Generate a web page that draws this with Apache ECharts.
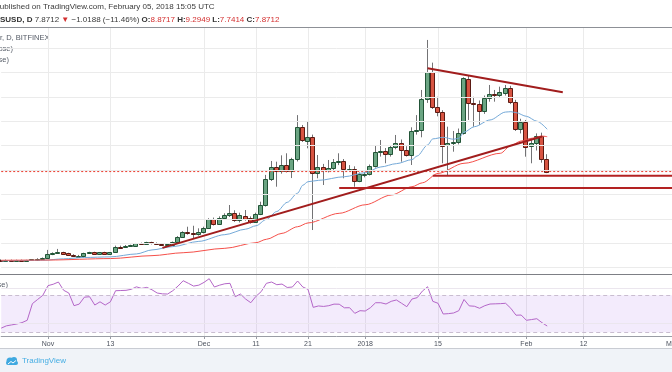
<!DOCTYPE html>
<html>
<head>
<meta charset="utf-8">
<script src="https://cdn.jsdelivr.net/npm/echarts@6/dist/echarts.min.js"></script>
<style>html,body{margin:0;padding:0;background:#fff}#c{width:672px;height:372px}</style>
</head>
<body>
<div id="c"></div>
<script>
// ---------- DATA (EOSUSD daily, Bitfinex, from 2017-10-23) ----------
const firstDay = '2017-10-23';
const axisDays = 130; // through 2018-03-01

const opens = [0.64,0.61,0.63,0.61,0.62,0.61,0.62,0.68,0.74,0.80,
1.10,1.19,1.24,1.16,1.06,0.96,0.99,1.18,1.26,1.10,
1.25,1.09,1.24,1.72,1.68,1.78,1.80,1.99,1.91,2.07,
1.98,1.95,1.88,1.88,2.10,2.50,2.92,2.84,2.75,2.90,
3.27,3.96,3.60,4.06,4.29,4.45,3.90,4.23,4.04,3.76,
4.37,5.13,7.26,8.27,7.94,8.41,7.94,8.88,11.50,10.40,
10.68,7.73,8.27,8.00,8.19,8.63,8.76,8.08,8.12,7.12,
7.62,7.65,8.33,9.45,9.56,9.29,9.86,10.19,9.64,9.23,
11.22,11.28,13.82,16.03,13.19,12.73,10.05,10.19,10.30,11.06,
15.46,13.52,13.41,12.84,13.88,14.23,14.18,14.34,14.70,13.60,
11.36,11.96,9.95,10.20,10.80,8.8717];
const highs = [0.68,0.66,0.66,0.65,0.66,0.64,0.70,0.77,0.83,1.45,
1.25,1.53,1.30,1.22,1.10,1.04,1.22,1.30,1.30,1.28,
1.30,1.28,1.80,1.80,1.85,1.88,2.02,2.05,2.12,2.12,
2.06,1.98,1.94,2.14,2.58,2.98,3.35,3.43,3.22,3.35,
4.05,4.10,4.20,4.45,5.13,4.70,4.50,4.72,4.20,4.50,
5.40,7.60,8.74,8.68,9.20,9.37,9.00,12.50,11.69,11.96,
10.90,9.23,8.50,8.82,8.90,9.37,8.90,8.40,8.30,7.80,
7.85,8.45,10.05,10.46,9.80,10.00,10.87,10.50,9.95,11.50,
12.50,14.56,18.66,16.80,14.00,12.90,11.55,11.20,11.40,15.60,
15.70,14.00,13.70,14.10,14.97,14.56,14.83,14.97,14.90,13.75,
12.20,12.10,10.60,11.00,11.06,9.2949];
const lows = [0.59,0.58,0.59,0.58,0.59,0.58,0.60,0.66,0.72,0.78,
1.02,1.12,1.10,1.02,0.92,0.88,0.96,1.14,1.05,1.06,
1.04,1.06,1.20,1.62,1.62,1.74,1.78,1.88,1.88,1.90,
1.88,1.84,1.85,1.85,2.06,2.45,2.70,2.40,2.62,2.80,
3.20,3.45,3.50,3.95,4.15,3.75,3.70,3.85,3.60,3.70,
4.30,5.00,7.10,6.63,7.70,7.80,7.34,8.70,10.30,9.78,
3.08,7.32,6.77,7.80,8.00,8.40,7.32,7.90,6.63,7.00,
7.40,7.55,8.20,9.10,8.55,9.10,9.70,8.68,9.10,8.41,
10.90,10.68,13.50,13.00,12.40,8.55,7.53,9.50,10.10,10.90,
12.10,11.55,11.69,12.60,13.60,13.60,13.90,14.10,13.40,11.20,
11.00,9.09,8.55,9.60,8.60,7.7414];
const closes = [0.61,0.63,0.61,0.62,0.61,0.62,0.68,0.74,0.80,1.10,
1.19,1.24,1.15,1.06,0.96,0.99,1.18,1.26,1.10,1.25,
1.09,1.24,1.72,1.68,1.80,1.82,1.99,1.91,2.07,1.98,
1.92,1.88,1.90,2.10,2.53,2.92,2.81,2.75,2.92,3.27,
3.98,3.57,4.09,4.29,4.48,3.90,4.31,3.98,3.71,4.39,
5.13,7.26,8.27,7.94,8.41,7.94,8.88,11.55,10.46,10.68,
7.73,8.27,8.00,8.19,8.63,8.74,8.08,8.12,7.12,7.67,
7.66,8.33,9.45,9.52,9.29,9.86,10.19,9.64,9.23,11.22,
11.28,13.82,16.03,13.19,12.73,10.00,10.19,10.30,11.06,15.50,
13.47,13.41,12.84,13.88,14.23,14.18,14.42,14.70,13.60,11.36,
11.96,9.90,10.20,10.80,8.88,7.8712];

const rsi = [34.5,37,38,39,40.5,43,61,65.5,70,80.5,
82,84.4,75.5,72.5,58.8,60.5,68,68.5,59.5,63,
59.5,63,75,75.2,75.4,76.5,79.2,77.5,78.6,76,
72.5,71.6,71.4,75,80,85.8,83,80,81,84,
88,79,81,82.5,83,68.5,71.4,66,62,69,
74,83,84.4,81.5,82.2,78.5,79,85.5,79,76.5,
57,58.5,58,58.8,60.5,60.4,56.5,56.6,50.5,53.4,
53,56.6,62,62,60.6,63.5,65,61.4,57.7,66,
67.5,74.6,79.3,63.5,61.4,49.8,50.2,50.9,53.4,65.5,
58.6,58.2,56,58.8,60.6,60.8,61,61.4,56,48.5,
48.7,43,43.8,44.7,40.4,36.8];

// moving averages (day index, value)
const maFastDays = [0,8,12,16,21,26,29,33,38,43,47,49,51,53,55,57,58,59,61,66,70,73,76,79,80,82,83,85,87,88,89,91,94,97,98,99,101,103,105];
const maFastValues = [0.56,0.60,0.72,0.83,0.88,1.12,1.45,1.72,2.15,2.70,3.15,3.43,3.95,4.60,5.35,6.10,6.75,7.04,7.15,7.45,7.78,8.25,8.52,8.85,9.15,10.05,10.55,10.68,10.52,10.60,11.10,11.55,12.10,12.75,12.78,12.70,12.40,12.00,11.34];
const maSlowDays = [0,9,21,29,35,43,49,51,54,57,59,65,70,75,79,81,84,89,96,98,100,102,104,105];
const maSlowValues = [0.60,0.62,0.74,0.98,1.22,1.58,2.04,2.32,2.81,3.35,3.66,4.45,5.15,5.95,6.63,6.95,7.72,8.55,9.37,10.00,10.38,10.60,10.78,10.73];

// drawn trend lines (day index, price)
const trendUpDays = [31, 104];
const trendUpPrices = [1.62, 10.75];
const trendDownDays = [82, 108];
const trendDownPrices = [16.34, 14.37];
const supportStartDays = [83, 65];
const supportLevels = [7.53, 6.52];

// axis ticks
const tickDates = ['2017-11-01','2017-11-13','2017-12-01','2017-12-11','2017-12-21','2018-01-01','2018-01-15','2018-02-01','2018-02-12','2018-03-01'];
const tickLabels = ['Nov','13','Dec','11','21','2018','15','Feb','12','Mar'];
const priceGridLevels = [0,2,4,6,8,10,12,14,16,18];
const rsiGridLevels = [40, 78];
const rsiBand = [30, 70];

// ---------- BUILD ----------
const categories = [];
{
  const p = firstDay.split('-').map(Number);
  for (let k = 0; k < axisDays; k++) {
    categories.push(new Date(Date.UTC(p[0], p[1] - 1, p[2] + k)).toISOString().slice(0, 10));
  }
}
const lastDay = axisDays - 1;
const candleData = opens.map((o, k) => [k, o, closes[k], lows[k], highs[k]]);
const pair = (days, vals) => days.map((d, k) => [d, vals[k]]);
const isTick = (idx, val) => tickDates.indexOf(val) >= 0;
const FONT = 'Liberation Sans, Arial, sans-serif';
const lastClose = closes[closes.length - 1];

function renderCandle(params, api) {
  const idx = api.value(0);
  const o = api.coord([idx, api.value(1)]);
  const c = api.coord([idx, api.value(2)]);
  const l = api.coord([idx, api.value(3)]);
  const h = api.coord([idx, api.value(4)]);
  const up = api.value(2) >= api.value(1);
  const cx = Math.round(o[0]);
  const top = Math.round(Math.min(o[1], c[1]));
  const bot = Math.round(Math.max(o[1], c[1]));
  const bh = Math.max(bot - top, 1);
  return {
    type: 'group',
    children: [
      { type: 'line', shape: { x1: cx - 0.5, y1: h[1], x2: cx - 0.5, y2: l[1] },
        style: { stroke: '#737375', lineWidth: 1 } },
      { type: 'rect', shape: { x: cx - 2.5, y: top + 0.5, width: 4, height: bh },
        style: { fill: up ? '#6ba583' : '#d75442', stroke: up ? '#225437' : '#5b1a13', lineWidth: 1 } }
    ]
  };
}

const chart = echarts.init(document.getElementById('c'), null, { renderer: 'canvas' });
const drawLine = { color: '#a11d1d', width: 2 };

chart.setOption({
  animation: false,
  backgroundColor: '#ffffff',
  grid: [
    { left: 1.2, right: 0, top: 28, height: 246, containLabel: false, outerBoundsMode: 'none' },
    { left: 1.2, right: 0, top: 275, height: 61, containLabel: false, outerBoundsMode: 'none' }
  ],
  xAxis: [
    { type: 'category', gridIndex: 0, data: categories, boundaryGap: false,
      axisLine: { show: false }, axisTick: { show: false }, axisLabel: { show: false },
      splitLine: { show: true, interval: isTick, lineStyle: { color: '#ebebeb', width: 1 } } },
    { type: 'category', gridIndex: 1, data: categories, boundaryGap: false,
      axisLine: { show: true, lineStyle: { color: '#9a9da5', width: 1 } },
      axisTick: { show: true, interval: isTick, length: 3, lineStyle: { color: '#9a9da5' } },
      axisLabel: { show: true, interval: isTick, margin: 5, fontSize: 7, fontFamily: FONT, color: '#4c525e',
        formatter: v => tickLabels[tickDates.indexOf(v)] || '' },
      splitLine: { show: true, interval: isTick, lineStyle: { color: '#ebebeb', width: 1 } } }
  ],
  yAxis: [
    { type: 'value', gridIndex: 0, min: -0.5246, max: 19.639, show: false, splitLine: { show: false } },
    { type: 'value', gridIndex: 1, min: 26, max: 92, show: false, splitLine: { show: false } }
  ],
  series: [
    { type: 'line', xAxisIndex: 0, yAxisIndex: 0, data: [[0, 0]], symbol: 'none', silent: true,
      lineStyle: { opacity: 0 }, z: 1,
      markLine: { silent: true, symbol: 'none', label: { show: false }, animation: false,
        lineStyle: { color: '#ebebeb', type: 'solid', width: 1 },
        data: priceGridLevels.map(v => ({ yAxis: v })) } },
    { type: 'custom', name: 'EOSUSD', xAxisIndex: 0, yAxisIndex: 0, renderItem: renderCandle,
      dimensions: ['day', 'open', 'close', 'low', 'high'], encode: { x: 0, y: [1, 2, 3, 4] },
      data: candleData, z: 3 },
    { type: 'line', name: 'MA fast', xAxisIndex: 0, yAxisIndex: 0, data: pair(maFastDays, maFastValues),
      symbol: 'none', smooth: 0.3, smoothMonotone: 'x', lineStyle: { color: '#74a9d8', width: 1 }, z: 4 },
    { type: 'line', name: 'MA slow', xAxisIndex: 0, yAxisIndex: 0, data: pair(maSlowDays, maSlowValues),
      symbol: 'none', smooth: 0.3, smoothMonotone: 'x', lineStyle: { color: '#f5504a', width: 1 }, z: 4 },
    { type: 'line', xAxisIndex: 0, yAxisIndex: 0, data: [[0, lastClose], [lastDay, lastClose]],
      symbol: 'none', lineStyle: { color: '#ea3b2e', width: 1, type: [2, 2] }, z: 4 },
    { type: 'line', xAxisIndex: 0, yAxisIndex: 0, data: pair(trendUpDays, trendUpPrices),
      symbol: 'none', lineStyle: drawLine, z: 5 },
    { type: 'line', xAxisIndex: 0, yAxisIndex: 0, data: pair(trendDownDays, trendDownPrices),
      symbol: 'none', lineStyle: drawLine, z: 5 },
    { type: 'line', xAxisIndex: 0, yAxisIndex: 0, data: [[supportStartDays[0], supportLevels[0]], [lastDay, supportLevels[0]]],
      symbol: 'none', lineStyle: { color: '#b32222', width: 2 }, z: 5 },
    { type: 'line', xAxisIndex: 0, yAxisIndex: 0, data: [[supportStartDays[1], supportLevels[1]], [lastDay, supportLevels[1]]],
      symbol: 'none', lineStyle: { color: '#b32222', width: 2 }, z: 5 },
    { type: 'line', name: 'RSI', xAxisIndex: 1, yAxisIndex: 1, data: rsi, symbol: 'none',
      lineStyle: { color: '#b466c8', width: 1 }, z: 4,
      markArea: { silent: true, itemStyle: { color: 'rgba(160, 90, 230, 0.12)' },
        data: [[{ yAxis: rsiBand[0] }, { yAxis: rsiBand[1] }]] },
      markLine: { silent: true, symbol: 'none', label: { show: false }, animation: false,
        data: [
          ...rsiBand.map(v => ({ yAxis: v, lineStyle: { color: '#c9bdd0', type: [4, 3], width: 1 } })),
          ...rsiGridLevels.map(v => ({ yAxis: v, lineStyle: { color: '#ebe6ee', type: 'solid', width: 1 } }))
        ] } }
  ],
  graphic: [
    { type: 'text', x: -5.5, y: 7, silent: true,
      style: { text: 'Published on TradingView.com, February 05, 2018 15:05 UTC', fill: '#3a3a3a',
        font: '8px ' + FONT, verticalAlign: 'middle', textVerticalAlign: 'middle' } },
    { type: 'text', x: -11.6, y: 19.5, silent: true,
      style: { text: '{b|EOSUSD, D} {n|7.8712} {r|▼} {n|\u22121.0188 (\u221211.46%)} {b|O:}{r|8.8717} {b|H:}{r|9.2949} {b|L:}{r|7.7414} {b|C:}{r|7.8712}',
        font: '8px ' + FONT, fill: '#3a3a3a', verticalAlign: 'middle', textVerticalAlign: 'middle',
        rich: {
          b: { fontWeight: 'bold', fontSize: 8, fontFamily: FONT, fill: '#333', color: '#333' },
          n: { fontSize: 8, fontFamily: FONT, fill: '#3a3a3a', color: '#3a3a3a' },
          r: { fontSize: 8, fontFamily: FONT, fill: '#d32f2f', color: '#d32f2f' }
        } } },
    { type: 'rect', shape: { x: 0, y: 27, width: 672, height: 1 }, style: { fill: '#8d9096' }, silent: true },
    { type: 'rect', shape: { x: 0, y: 274, width: 672, height: 1 }, style: { fill: '#7d7f85' }, silent: true },
    { type: 'text', x: 49.5, y: 38, silent: true,
      style: { text: 'EOS / Dollar, D, BITFINEX', fill: '#555b66', font: '7.5px ' + FONT,
        align: 'right', textAlign: 'right', verticalAlign: 'middle', textVerticalAlign: 'middle' } },
    { type: 'text', x: 13, y: 49, silent: true,
      style: { text: 'MA (20, close)', fill: '#555b66', font: '7.5px ' + FONT,
        align: 'right', textAlign: 'right', verticalAlign: 'middle', textVerticalAlign: 'middle' } },
    { type: 'text', x: 9, y: 60, silent: true,
      style: { text: 'MA (50, close)', fill: '#555b66', font: '7.5px ' + FONT,
        align: 'right', textAlign: 'right', verticalAlign: 'middle', textVerticalAlign: 'middle' } },
    { type: 'text', x: 8, y: 284.5, silent: true,
      style: { text: 'RSI (14, close)', fill: '#555b66', font: '7.5px ' + FONT,
        align: 'right', textAlign: 'right', verticalAlign: 'middle', textVerticalAlign: 'middle' } },
    { type: 'rect', shape: { x: 0, y: 349, width: 672, height: 23 }, style: { fill: '#f0f3f8' }, silent: true },
    { type: 'rect', shape: { x: 0, y: 348, width: 672, height: 1 }, style: { fill: '#c9ccd3' }, silent: true },
    { type: 'group', x: 4, y: 356, silent: true, children: [
      { type: 'circle', shape: { cx: 6, cy: 5, r: 3.5 }, style: { fill: '#3fa9e0' } },
      { type: 'circle', shape: { cx: 10, cy: 4, r: 3 }, style: { fill: '#3fa9e0' } },
      { type: 'rect', shape: { x: 2, y: 5, width: 12, height: 4, r: 2 }, style: { fill: '#3fa9e0' } },
      { type: 'polyline', shape: { points: [[4, 8], [7, 5.5], [9, 7], [12, 4.5]] }, style: { stroke: '#ffffff', lineWidth: 1, fill: null } }
    ] },
    { type: 'text', x: 22, y: 361, silent: true,
      style: { text: 'TradingView', fill: '#46aee3', font: '8px ' + FONT, verticalAlign: 'middle', textVerticalAlign: 'middle' } }
  ]
});
</script>
</body>
</html>
